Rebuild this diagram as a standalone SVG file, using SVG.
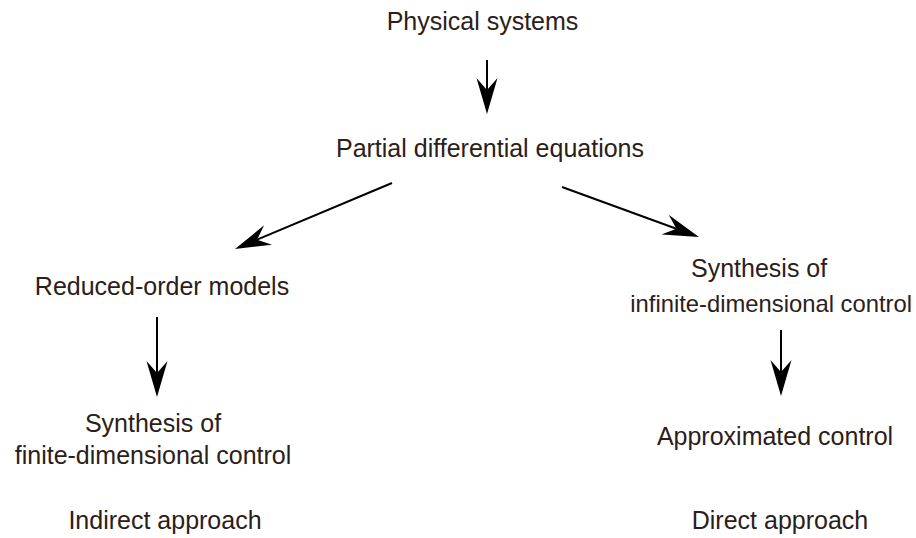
<svg xmlns="http://www.w3.org/2000/svg" width="916" height="538" viewBox="0 0 916 538">
<style>
text{font-family:"Liberation Sans",Arial,sans-serif;font-size:25px;fill:#2b2019}
.c{text-anchor:middle}
.a{stroke:#000;stroke-width:2;fill:none}
</style>
<defs>
<marker id="ah" viewBox="0 -11 37 22" refX="12" refY="0" markerWidth="37" markerHeight="22" markerUnits="userSpaceOnUse" orient="auto">
<path d="M36,0 L0,-10.5 L12,0 L0,10.5 Z" fill="#000"/>
</marker>
</defs>
<rect width="916" height="538" fill="#fff"/>
<g id="physical"><text class="c" x="482.5" y="30">Physical systems</text></g>
<g id="pde"><text class="c" x="490" y="157">Partial differential equations</text></g>
<g id="rom"><text class="c" x="162" y="295">Reduced-order models</text></g>
<g id="synth-inf"><text x="691" y="277">Synthesis of</text><text x="912" y="312" style="text-anchor:end;font-size:23.8px">infinite-dimensional control</text></g>
<g id="synth-fin"><text class="c" x="153" y="432">Synthesis of</text><text class="c" x="153" y="464">finite-dimensional control</text></g>
<g id="approx"><text class="c" x="775" y="445">Approximated control</text></g>
<g id="indirect"><text class="c" x="165" y="529">Indirect approach</text></g>
<g id="direct"><text class="c" x="780" y="529">Direct approach</text></g>
<g id="connectors">
<line class="a" x1="487" y1="60" x2="487" y2="90" marker-end="url(#ah)"/>
<line class="a" x1="392" y1="183" x2="257.1" y2="239.7" marker-end="url(#ah)"/>
<line class="a" x1="562" y1="187" x2="676.4" y2="228.8" marker-end="url(#ah)"/>
<line class="a" x1="157" y1="317" x2="157" y2="373" marker-end="url(#ah)"/>
<line class="a" x1="781" y1="330" x2="781" y2="372" marker-end="url(#ah)"/>
</g>
</svg>
